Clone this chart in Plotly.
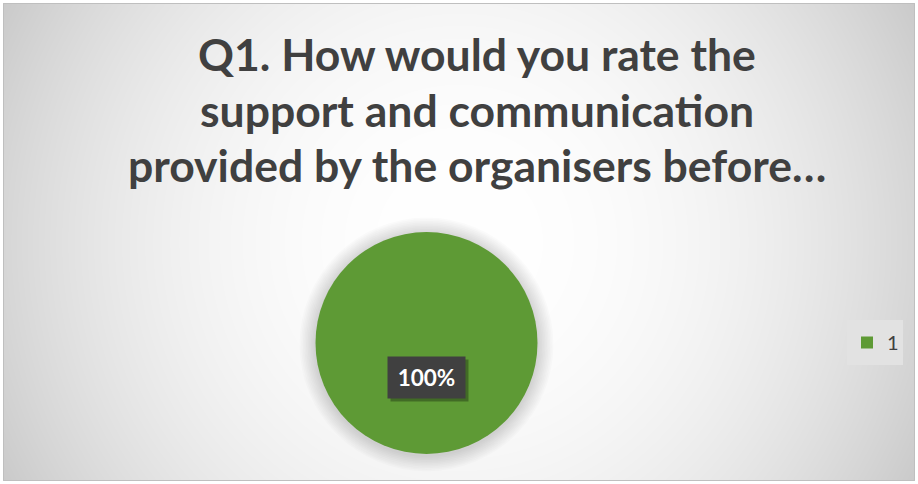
import base64
import struct
import zlib

import numpy as np
import plotly.graph_objects as go

# ---- data -------------------------------------------------------------
categories = ["1"]
responses = [1]
title_lines = [
    "Q1. How would you rate the",
    "support and communication",
    "provided by the organisers before…",
]

# ---- canvas geometry ----------------------------------------------------
W, H = 918, 484
FRAME = (3, 3, 915, 481)          # chart-area frame (px)
PIE_CX, PIE_CY, PIE_R = 426.5, 343.0, 111.0
LEGEND_BOX = (847, 320, 903, 365)
GREEN = "#5e9a35"
TEXT = "#404040"
FONT = "Lato"
TITLE_SIZE = 44.5


def px_x(x):
    return x / W


def px_y(y):
    return 1 - y / H


def gray_png(arr):
    """Encode a 2-D uint8 array as a grayscale PNG data URI."""
    h, w = arr.shape
    raw = b"".join(b"\x00" + arr[j].tobytes() for j in range(h))

    def chunk(tag, data):
        body = tag + data
        return struct.pack(">I", len(data)) + body + struct.pack(">I", zlib.crc32(body) & 0xFFFFFFFF)

    ihdr = struct.pack(">IIBBBBB", w, h, 8, 0, 0, 0, 0)
    png = (b"\x89PNG\r\n\x1a\n" + chunk(b"IHDR", ihdr)
           + chunk(b"IDAT", zlib.compress(raw, 9)) + chunk(b"IEND", b""))
    return "data:image/png;base64," + base64.b64encode(png).decode()


# radial white-to-grey fill of the chart area
fx0, fy0, fx1, fy1 = FRAME
gw, gh = fx1 - fx0, fy1 - fy0
yy, xx = np.mgrid[0:gh, 0:gw].astype(float)
dist = np.hypot(xx - gw / 2, yy - gh / 2)
shade = np.clip(255 - 10 * (dist / 240) ** 2.18, 190, 255).astype(np.uint8)
background = gray_png(shade)

fig = go.Figure()

fig.add_trace(go.Pie(
    labels=categories,
    values=responses,
    sort=False,
    direction="clockwise",
    rotation=90,
    textinfo="none",
    marker=dict(colors=[GREEN], line=dict(width=0)),
    domain=dict(
        x=[px_x(PIE_CX - PIE_R), px_x(PIE_CX + PIE_R)],
        y=[px_y(PIE_CY + PIE_R), px_y(PIE_CY - PIE_R)],
    ),
    showlegend=True,
))

shapes = []
# soft drop shadow around the pie
for k in range(1, 11):
    rr = PIE_R + k * 1.6
    shapes.append(dict(
        type="circle", xref="paper", yref="paper", layer="below",
        x0=px_x(PIE_CX - rr), x1=px_x(PIE_CX + rr),
        y0=px_y(PIE_CY + 1.5 + rr), y1=px_y(PIE_CY + 1.5 - rr),
        fillcolor="rgba(0,0,0,0.016)", line=dict(width=0),
    ))
# legend panel
lx0, ly0, lx1, ly1 = LEGEND_BOX
shapes.append(dict(
    type="rect", xref="paper", yref="paper", layer="below",
    x0=px_x(lx0), x1=px_x(lx1), y0=px_y(ly1), y1=px_y(ly0),
    fillcolor="#e2e2e2", line=dict(width=0),
))
# chart-area frame
shapes.append(dict(
    type="rect", xref="paper", yref="paper", layer="above",
    x0=px_x(fx0 + 0.5), x1=px_x(fx1 - 0.5), y0=px_y(fy1 - 0.5), y1=px_y(fy0 + 0.5),
    line=dict(color="#bfbfbf", width=1), fillcolor="rgba(0,0,0,0)",
))

annotations = []
# title, one annotation per line
baselines = [70.5, 126.3, 182.0]
for line, base in zip(title_lines, baselines):
    annotations.append(dict(
        text=line, xref="paper", yref="paper", showarrow=False,
        x=px_x(477), y=px_y(base - 0.387 * TITLE_SIZE), xanchor="center", yanchor="middle",
        font=dict(family=FONT, size=TITLE_SIZE, color=TEXT, weight="bold"),
    ))

# percentage data label, half a radius below the pie centre
total = sum(responses)
share = responses[0] / total
label = f"{share * 100:.0f}%"
lx, ly = px_x(PIE_CX), px_y(PIE_CY + 0.5 * PIE_R)
annotations.append(dict(
    text=" ", xref="paper", yref="paper", showarrow=False, x=lx, y=ly,
    xshift=3, yshift=-3, width=77, height=41, borderpad=0,
    bgcolor="rgba(0,0,0,0.30)",
))
annotations.append(dict(
    text=label, xref="paper", yref="paper", showarrow=False, x=lx, y=ly,
    width=77, height=41, borderpad=0, bgcolor="#404040",
    font=dict(family=FONT, size=22.5, color="white", weight="bold"),
))

fig.update_layout(
    width=W, height=H,
    margin=dict(l=0, r=0, t=0, b=0),
    paper_bgcolor="white",
    images=[dict(
        source=background, xref="paper", yref="paper",
        x=px_x(fx0), y=px_y(fy0), sizex=gw / W, sizey=gh / H,
        xanchor="left", yanchor="top", sizing="stretch", layer="below",
    )],
    shapes=shapes,
    annotations=annotations,
    legend=dict(
        x=px_x(lx0), y=px_y((ly0 + ly1) / 2), xanchor="left", yanchor="middle",
        bgcolor="rgba(0,0,0,0)", borderwidth=0,
        font=dict(family=FONT, size=20, color=TEXT),
    ),
)

fig.write_html("out.html")
